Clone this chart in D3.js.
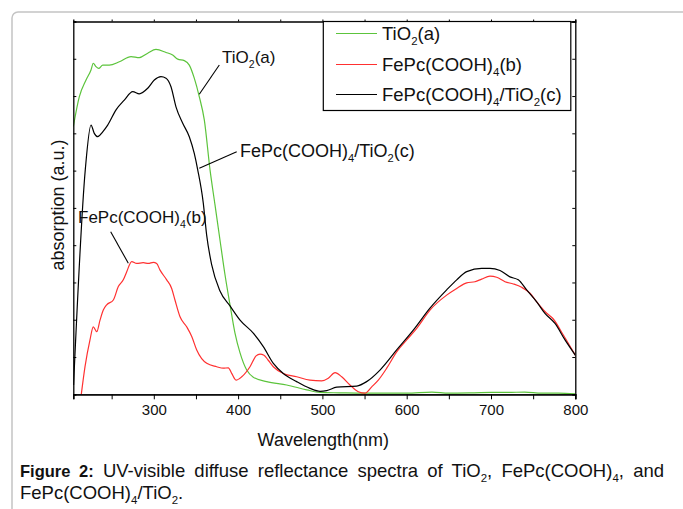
<!DOCTYPE html>
<html><head><meta charset="utf-8">
<script src="https://cdn.jsdelivr.net/npm/d3@7"></script>
<style>html,body{margin:0;padding:0;background:#fff;}svg{display:block;}</style>
</head><body>
<svg id="chart" width="683" height="509"></svg>
<script>
// ---- data ----
const tio2Wl  = [204.5,211.6,219.6,225.5,228.2,231.4,234.6,239.4,247.2,259.1,273.0,282.8,292.8,302.6,314.5,322.4,328.4,336.2,342.1,348.0,354.0,359.9,366.7,372.6,378.5,384.5,390.4,396.3,402.3,410.2,418.0,433.9,457.6,481.4,497.2,520,550,580,600,630,650,680,700,720,740,760,780,800];
const tio2Abs = [7.18,7.98,8.43,8.70,8.88,8.79,8.74,8.83,8.83,8.92,9.06,9.03,9.15,9.25,9.17,9.10,8.99,8.95,8.83,8.48,7.98,7.36,6.02,5.08,4.14,3.20,2.40,1.64,1.11,0.65,0.46,0.34,0.25,0.12,0.05,0.04,0.03,0.03,0.03,0.06,0.03,0.04,0.05,0.05,0.06,0.03,0.03,0.01];

const fepcWl  = [214,218.4,224.3,228.2,232.3,236.2,240.1,244.1,252.0,257.9,263.8,267.9,273.8,279.7,287.5,293.5,299.4,303.4,307.4,315.3,321.2,325.1,331.1,339.0,345.0,350.9,362.8,374.6,382.4,388.4,392.4,397.5,404.3,414.1,421.3,426.0,430.7,435.5,441.8,453.6,469.5,485.3,499.2,507.0,515.0,522.9,532.7,542.6,550.5,558.5,566.3,576.3,588.1,600.0,611.9,627.6,647.4,659.3,671.2,681.0,688.9,698.8,706.7,716.6,726.5,736.4,746.3,754.2,764.0,773.9,785.8,800];
const fepcAbs = [0.0,0.74,1.46,1.81,1.68,1.99,2.26,2.40,2.53,2.89,3.07,3.29,3.56,3.51,3.53,3.51,3.54,3.51,3.33,3.07,2.84,2.53,2.08,1.81,1.55,1.19,0.83,0.74,0.70,0.71,0.56,0.38,0.47,0.74,1.03,1.08,1.05,0.92,0.74,0.56,0.47,0.38,0.36,0.43,0.58,0.47,0.25,0.07,0.03,0.20,0.38,0.70,1.14,1.46,1.77,2.26,2.66,2.84,2.99,3.02,3.09,3.17,3.14,3.02,2.96,2.87,2.71,2.48,2.22,2.02,1.59,1.05];

const compWl  = [204.8,218.7,225.5,229.4,233.5,239.4,245.3,255.2,265.0,275.0,282.8,292.8,300.6,308.5,314.5,320.4,326.3,334.3,342.1,348.0,352.1,358.7,362.7,368.7,378.5,390.4,402.3,418.0,429.9,441.8,453.6,469.5,485.3,497.2,505.1,517.0,540.7,552.5,568.3,588.1,607.8,627.6,647.4,659.3,671.2,688.9,698.8,710.7,722.5,732.4,742.3,754.2,764.0,775.9,787.8,800];
const compAbs = [0.25,6.02,7.22,7.00,6.91,7.04,7.22,7.63,7.89,8.12,8.06,8.21,8.43,8.52,8.48,8.25,7.71,7.27,6.91,6.46,6.02,5.13,4.27,3.47,2.77,2.37,1.99,1.64,1.28,0.83,0.56,0.34,0.16,0.08,0.10,0.19,0.22,0.34,0.65,1.19,1.72,2.31,2.80,3.07,3.29,3.38,3.38,3.32,3.15,3.07,2.80,2.48,2.17,1.90,1.46,1.05];

const xTickValues = [300,400,500,600,700,800];
const xMinorValues = [250,350,450,550,650,750];
const yTickValues = [0,1,2,3,4,5,6,7,8,9,10];
const seriesNames = [
  [{t:"TiO"},{t:"2",s:1},{t:"(a)"}],
  [{t:"FePc(COOH)"},{t:"4",s:1},{t:"(b)"}],
  [{t:"FePc(COOH)"},{t:"4",s:1},{t:"/TiO"},{t:"2",s:1},{t:"(c)"}]
];
const seriesColors = ["#5cc43c","#ff3030","#000000"];

// ---- layout ----
const svg = d3.select("#chart");
const FONT = "'Liberation Sans', Arial, sans-serif";
const L = 73.3, R = 575.3, T = 21.5, B = 394.3;

const x = d3.scaleLinear().domain([204.5, 800]).range([L, R]);
const y = d3.scaleLinear().domain([0, 10]).range([B, T]);

// outer frame
svg.append("rect").attr("x",12).attr("y",12).attr("width",720).attr("height",600)
  .attr("rx",6).attr("fill","none").attr("stroke","#c4c4c4").attr("stroke-width",1.5);

function richText(sel, segs, size) {
  segs.forEach((sg, i) => {
    const ts = sel.append("tspan").text(sg.t);
    if (sg.s) {
      ts.attr("font-size", size*0.62).attr("dy", size*0.28);
    } else if (i > 0 && segs[i-1].s) {
      ts.attr("dy", -size*0.28);
    }
  });
  return sel;
}

// clip
svg.append("clipPath").attr("id","clip").append("rect")
  .attr("x",L).attr("y",T).attr("width",R-L).attr("height",B-T);

// lines
const line = d3.line().x(d=>x(d[0])).y(d=>y(d[1])).curve(d3.curveMonotoneX);
const series = [
  d3.zip(tio2Wl, tio2Abs),
  d3.zip(fepcWl, fepcAbs),
  d3.zip(compWl, compAbs)
];
const g = svg.append("g").attr("clip-path","url(#clip)");
series.forEach((s,i) => {
  g.append("path").datum(s).attr("d", line).attr("fill","none")
    .attr("stroke", seriesColors[i]).attr("stroke-width", 1.2);
});

// axes
const axB = svg.append("g").attr("transform",`translate(0,${B})`)
  .call(d3.axisBottom(x).tickValues(xTickValues).tickSize(5).tickPadding(5).tickFormat(d3.format("d")));
const axBm = svg.append("g").attr("transform",`translate(0,${B})`)
  .call(d3.axisBottom(x).tickValues(xMinorValues).tickSize(5).tickFormat(""));
const axT = svg.append("g").attr("transform",`translate(0,${T})`)
  .call(d3.axisTop(x).tickValues(xTickValues.concat(xMinorValues)).tickSize(2).tickFormat(""));
const axL = svg.append("g").attr("transform",`translate(${L},0)`)
  .call(d3.axisLeft(y).tickValues(yTickValues).tickSize(-3).tickFormat(""));
const axR = svg.append("g").attr("transform",`translate(${R},0)`)
  .call(d3.axisRight(y).tickValues(yTickValues).tickSize(-3).tickFormat(""));
[axB,axBm,axT,axL,axR].forEach(a => {
  a.select(".domain").attr("stroke","#000").attr("stroke-width",1.3);
  a.selectAll(".tick line").attr("stroke","#000").attr("stroke-width",1);
  a.selectAll("text").attr("font-family",FONT).attr("font-size",15).attr("fill","#111");
});

// axis titles
svg.append("text").attr("x",(L+R)/2-1).attr("y",446).attr("text-anchor","middle")
  .attr("font-family",FONT).attr("font-size",18).attr("fill","#111").text("Wavelength(nm)");
svg.append("text").attr("transform","translate(64,205) rotate(-90)").attr("text-anchor","middle")
  .attr("font-family",FONT).attr("font-size",18).attr("fill","#111").text("absorption (a.u.)");

// annotations
function annot(segs, size, tx, ty, x1, y1, x2, y2) {
  richText(svg.append("text").attr("x",tx).attr("y",ty).attr("font-family",FONT)
    .attr("font-size",size).attr("fill","#111"), segs, size);
  svg.append("line").attr("x1",x1).attr("y1",y1).attr("x2",x2).attr("y2",y2)
    .attr("stroke","#000").attr("stroke-width",1.1);
}
annot(seriesNames[0], 17, 222, 63, 219.3, 65, 199.3, 94.3);
annot(seriesNames[2], 18, 240, 156.5, 236.7, 151.7, 199.3, 168.3);
annot(seriesNames[1], 17, 78, 223, 110.7, 231.7, 128.3, 263.3);

// legend
const lg = svg.append("g");
lg.append("rect").attr("x",323.3).attr("y",T).attr("width",247.5).attr("height",89)
  .attr("fill","#fff").attr("stroke","#000").attr("stroke-width",1.2);
const rowsY = [33.5, 64.5, 94.5];
seriesNames.forEach((segs,i) => {
  lg.append("line").attr("x1",336).attr("x2",377).attr("y1",rowsY[i]).attr("y2",rowsY[i])
    .attr("stroke",seriesColors[i]).attr("stroke-width",1.2);
  richText(lg.append("text").attr("x",382).attr("y",rowsY[i]+6.5).attr("font-family",FONT)
    .attr("font-size",18.5).attr("fill","#111"), segs, 18.5);
});

// caption (justified first line)
const cap1 = svg.append("text").attr("x",20).attr("y",477).attr("font-family",FONT)
  .attr("font-size",18.5).attr("fill","#111");
cap1.append("tspan").attr("font-weight","bold").attr("font-size",16.5).text("Figure 2:");
richText(cap1, [{t:" UV-visible diffuse reflectance spectra of TiO"},{t:"2",s:1},{t:", FePc(COOH)"},{t:"4",s:1},{t:", and"}], 18.5);
const natural = cap1.node().getComputedTextLength();
const extra = (664 - 20) - natural;
if (extra > 0) cap1.attr("word-spacing", extra / 9);
const cap2 = svg.append("text").attr("x",20).attr("y",499).attr("font-family",FONT)
  .attr("font-size",18.5).attr("fill","#111");
richText(cap2, [{t:"FePc(COOH)"},{t:"4",s:1},{t:"/TiO"},{t:"2",s:1},{t:"."}], 18.5);
</script>
</body></html>
